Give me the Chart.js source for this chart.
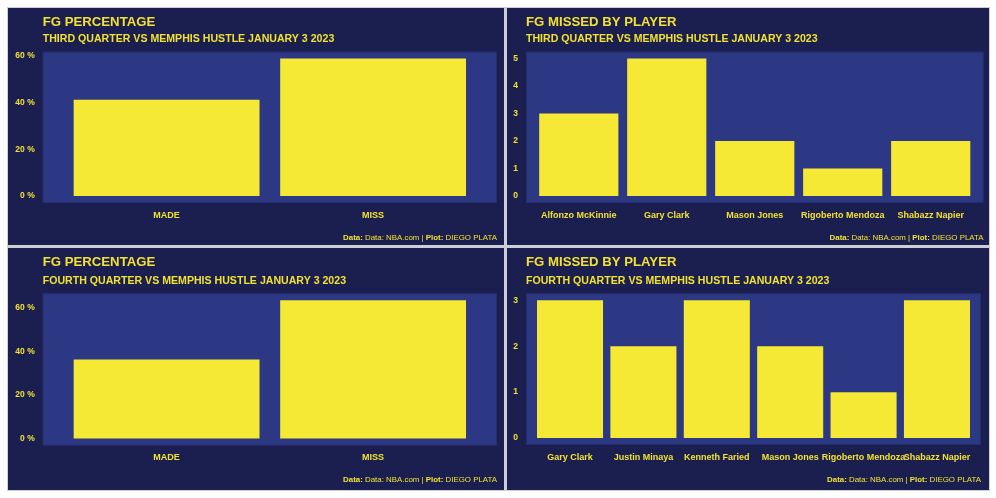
<!DOCTYPE html>
<html>
<head>
<meta charset="utf-8">
<script src="https://cdn.jsdelivr.net/npm/chart.js@4.4.1/dist/chart.umd.min.js"></script>
<style>
  html, body { margin: 0; padding: 0; background: #ffffff; }
  #frame { position: absolute; left: 7px; top: 7px; width: 983px; height: 484px; background: #cdced6; }
  .panel { position: absolute; background: #1b1f4f; }
  .panel canvas { display: block; }
</style>
</head>
<body>
<div id="frame"></div>
<div class="panel" id="p1" style="left:8px;top:8px;width:496px;height:237px;"><canvas id="c1"></canvas></div>
<div class="panel" id="p2" style="left:507px;top:8px;width:482px;height:237px;"><canvas id="c2"></canvas></div>
<div class="panel" id="p3" style="left:8px;top:248px;width:496px;height:242px;"><canvas id="c3"></canvas></div>
<div class="panel" id="p4" style="left:507px;top:248px;width:482px;height:242px;"><canvas id="c4"></canvas></div>
<script>
// ---- data ----
const pctCategories = ["MADE", "MISS"];
const q3Pct = [41.18, 58.82];
const q4Pct = [36.36, 63.64];
const pctTicks = [0, 20, 40, 60];

const q3Players = ["Alfonzo McKinnie", "Gary Clark", "Mason Jones", "Rigoberto Mendoza", "Shabazz Napier"];
const q3Missed = [3, 5, 2, 1, 2];
const q3Ticks = [0, 1, 2, 3, 4, 5];

const q4Players = ["Gary Clark", "Justin Minaya", "Kenneth Faried", "Mason Jones", "Rigoberto Mendoza", "Shabazz Napier"];
const q4Missed = [3, 2, 3, 2, 1, 3];
const q4Ticks = [0, 1, 2, 3];

const titlePct = "FG PERCENTAGE";
const titleMiss = "FG MISSED BY PLAYER";
const subQ3 = "THIRD QUARTER VS MEMPHIS HUSTLE JANUARY 3 2023";
const subQ4 = "FOURTH QUARTER VS MEMPHIS HUSTLE JANUARY 3 2023";

// ---- style ----
const FONT = '"Liberation Sans", Arial, Helvetica, sans-serif';
const YEL = '#f2e130';
const BAR = '#f6e936';
const PANEL_BG = '#1b1f4f';
const PLOT_BG = '#2c3883';

const deco = {
  id: 'deco',
  beforeDraw(chart, args, o) {
    const { ctx, chartArea: a } = chart;
    ctx.save();
    ctx.fillStyle = PANEL_BG;
    ctx.fillRect(0, 0, chart.width, chart.height);
    ctx.fillStyle = PLOT_BG;
    ctx.fillRect(a.left, a.top, a.right - a.left, a.bottom - a.top);
    ctx.strokeStyle = '#252d6c';
    ctx.lineWidth = 1;
    ctx.strokeRect(a.left + 0.5, a.top + 0.5, a.right - a.left - 1, a.bottom - a.top - 1);
    ctx.restore();
  },
  afterDraw(chart, args, o) {
    const { ctx, chartArea: a } = chart;
    ctx.save();
    ctx.fillStyle = YEL;
    ctx.textBaseline = 'alphabetic';
    ctx.textAlign = 'left';
    ctx.font = 'bold 13.2px ' + FONT;
    ctx.fillText(o.title, a.left, o.titleY);
    ctx.font = 'bold 10.6px ' + FONT;
    ctx.fillText(o.subtitle, a.left, o.subY);
    const parts = [
      ['bold', 'Data:'], ['normal', ' Data: NBA.com | '], ['bold', 'Plot:'], ['normal', ' DIEGO PLATA']
    ];
    let total = 0;
    parts.forEach(p => { ctx.font = p[0] + ' 7.9px ' + FONT; total += ctx.measureText(p[1]).width; });
    let x = a.right - total;
    parts.forEach(p => {
      ctx.font = p[0] + ' 7.9px ' + FONT;
      ctx.fillText(p[1], x, o.capY);
      x += ctx.measureText(p[1]).width;
    });
    ctx.restore();
  }
};

function makeChart(id, cats, vals, ticks, isPct, geom, texts) {
  const maxV = Math.max(...vals);
  const el = document.getElementById(id);
  const W = el.parentElement.clientWidth, H = el.parentElement.clientHeight;
  return new Chart(el, {
    type: 'bar',
    data: {
      datasets: [{
        data: vals.map((v, i) => ({ x: i + 1, y: v })),
        backgroundColor: BAR,
        borderWidth: 0,
        barPercentage: 0.9,
        categoryPercentage: 1.0
      }]
    },
    options: {
      responsive: true,
      maintainAspectRatio: false,
      animation: false,
      devicePixelRatio: 1,
      layout: { padding: { top: geom.top, right: W - geom.right, bottom: 0, left: 0 } },
      plugins: {
        legend: { display: false },
        tooltip: { enabled: false },
        title: { display: false },
        deco: { title: texts.title, subtitle: texts.sub, titleY: texts.titleY, subY: texts.subY, capY: texts.capY }
      },
      scales: {
        x: {
          type: 'linear',
          offset: false,
          min: 0.4,
          max: cats.length + 0.6,
          grid: { display: false, drawTicks: false, offset: false },
          border: { display: false },
          afterBuildTicks: s => { s.ticks = cats.map((c, i) => ({ value: i + 1 })); },
          afterFit: s => { s.height = H - geom.bottom; },
          ticks: {
            autoSkip: false, maxRotation: 0, minRotation: 0, padding: 7,
            color: YEL, font: { family: FONT, weight: 'bold', size: 9 },
            callback: v => cats[Math.round(v) - 1]
          }
        },
        y: {
          type: 'linear',
          min: -0.05 * maxV,
          max: 1.05 * maxV,
          grid: { display: false, drawTicks: false },
          border: { display: false },
          afterBuildTicks: s => { s.ticks = ticks.map(t => ({ value: t })); },
          afterFit: s => { s.width = geom.left; },
          ticks: {
            padding: 8,
            color: YEL, font: { family: FONT, weight: 'bold', size: 8.5 },
            callback: v => isPct ? v + ' %' : String(v)
          }
        }
      }
    },
    plugins: [deco]
  });
}

makeChart('c1', pctCategories, q3Pct, pctTicks, true,
  { left: 34.7, right: 489, top: 43.7, bottom: 195 },
  { title: titlePct, sub: subQ3, titleY: 17.7, subY: 34, capY: 232 });
makeChart('c2', q3Players, q3Missed, q3Ticks, false,
  { left: 19, right: 476.5, top: 43.7, bottom: 195 },
  { title: titleMiss, sub: subQ3, titleY: 17.7, subY: 34, capY: 232 });
makeChart('c3', pctCategories, q4Pct, pctTicks, true,
  { left: 34.7, right: 489, top: 45.3, bottom: 197.5 },
  { title: titlePct, sub: subQ4, titleY: 18, subY: 35.5, capY: 234 });
makeChart('c4', q4Players, q4Missed, q4Ticks, false,
  { left: 19, right: 474, top: 45.3, bottom: 197 },
  { title: titleMiss, sub: subQ4, titleY: 18, subY: 35.5, capY: 234 });
</script>
</body>
</html>
